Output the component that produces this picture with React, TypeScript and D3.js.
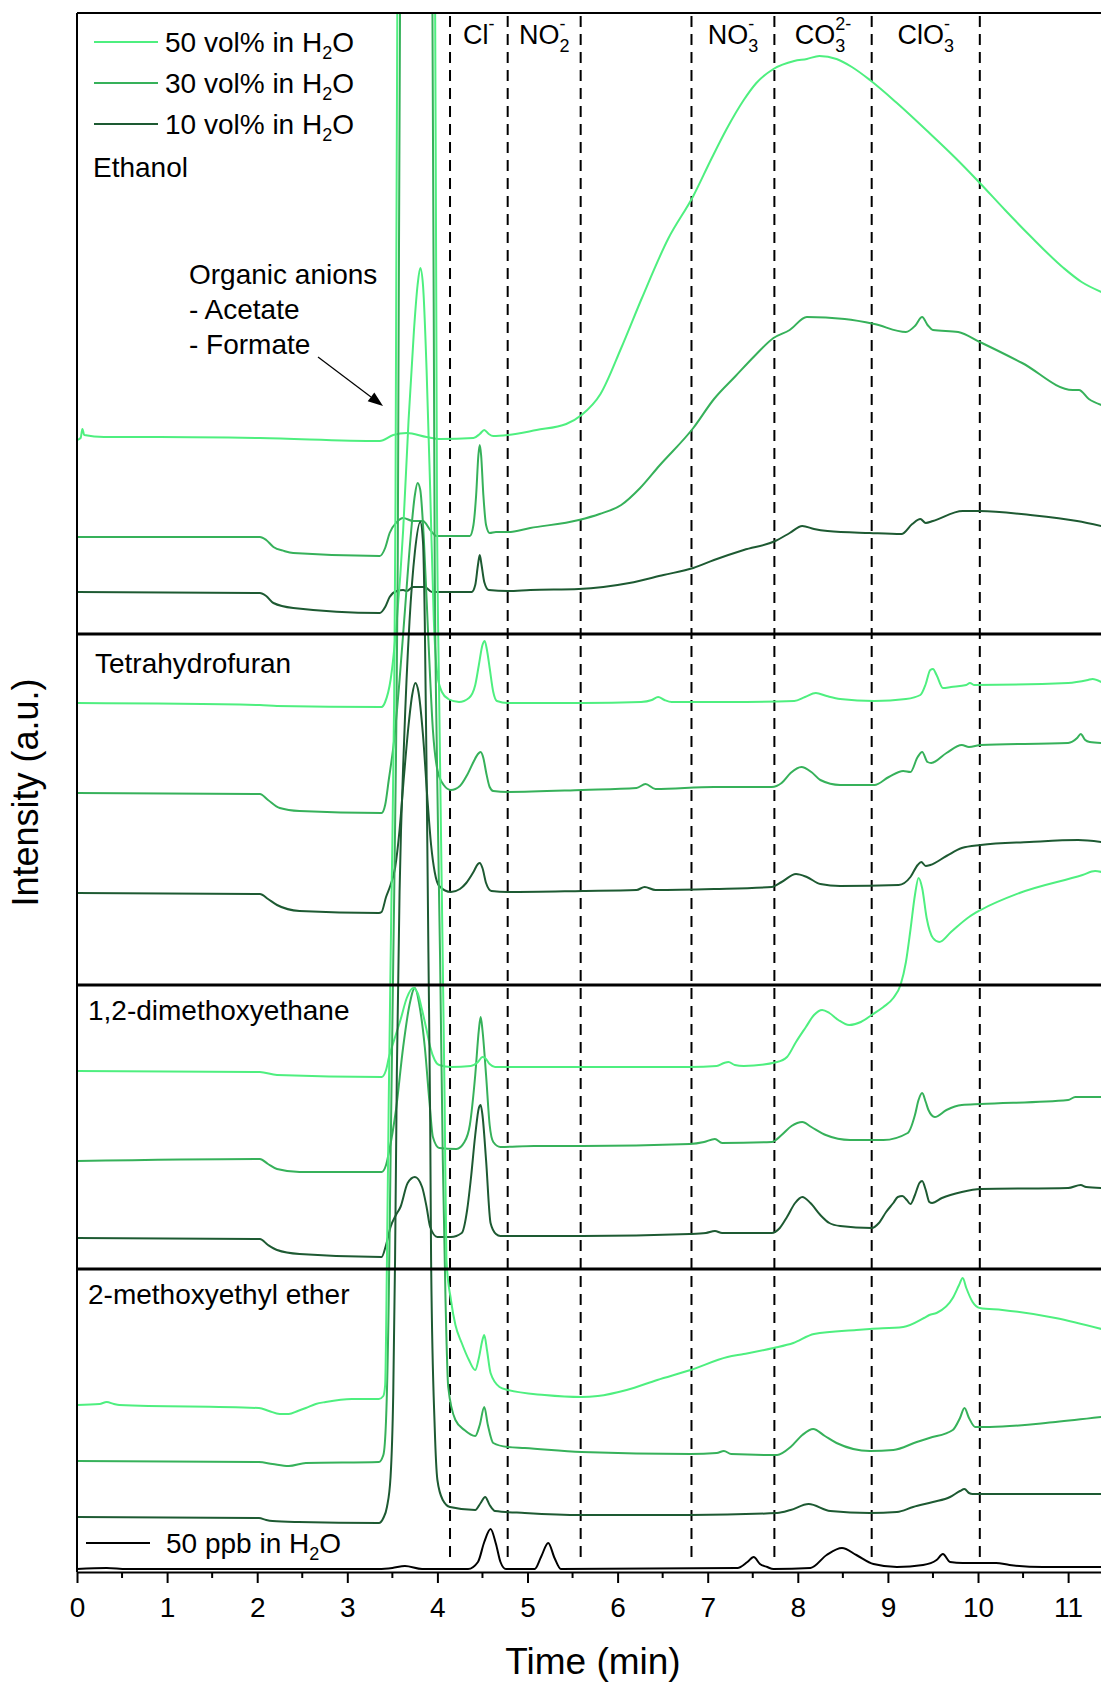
import React, { useEffect, useRef } from "react";
import * as d3 from "d3";

type Pt = [number, number];

const W = 1101;
const H = 1682;
const font = "'Liberation Sans', Arial, Helvetica, sans-serif";

// time axis (min)
const timeTicks = [0, 1, 2, 3, 4, 5, 6, 7, 8, 9, 10, 11];
const timeMinor = [0.5, 1.5, 2.5, 3.5, 4.5, 5.5, 6.5, 7.5, 8.5, 9.5, 10.5];
const timeMax = 11.365;
const intensityMax = 1559;

// dashed retention windows (min)
const windowEdges = [4.14, 4.78, 5.59, 6.82, 7.74, 8.82, 10.02];
const ionBase = ["Cl", "NO", "NO", "CO", "ClO"];
const ionSub = ["", "2", "3", "3", "3"];
const ionCharge = ["-", "-", "-", "2-", "-"];
const ionWindow = [0, 1, 3, 4, 5];

const solvents = ["Ethanol", "Tetrahydrofuran", "1,2-dimethoxyethane", "2-methoxyethyl ether"];
const concLabels = ["50 vol% in H", "30 vol% in H", "10 vol% in H"];
const concColors = ["#4EEF7F", "#36B15A", "#1D5A32"];

// panel separators (a.u.)
const panelBreaks = [938, 587, 303];

// chromatograms: [time (min), intensity (a.u., stacked offset included)]
const eth50: Pt[] = [[0,1132],[0.04,1134],[0.06,1143],[0.08,1137],[0.3,1135],[0.92,1135],[2.03,1134],[3.36,1131],[3.51,1137],[3.66,1139],[3.88,1135],[4.03,1133],[4.4,1134],[4.47,1138],[4.52,1142],[4.57,1138],[4.62,1136],[4.78,1137],[5.1,1142],[5.43,1148],[5.6,1157],[5.81,1178],[6.04,1224],[6.27,1274],[6.56,1333],[6.84,1376],[7.04,1413],[7.21,1443],[7.4,1472],[7.54,1489],[7.73,1503],[7.96,1511],[8.1,1513],[8.24,1516],[8.43,1513],[8.6,1505],[8.8,1492],[9.1,1469],[9.46,1439],[9.75,1414],[10.02,1389],[10.3,1362],[10.58,1336],[10.95,1304],[11.15,1290],[11.37,1280]];
const eth30: Pt[] = [[0,1035],[2.03,1035],[2.1,1032],[2.18,1025],[2.3,1021],[2.4,1019],[3.36,1016],[3.42,1024],[3.47,1039],[3.55,1050],[3.62,1054],[3.73,1051],[3.84,1051],[3.92,1042],[3.99,1036],[4.25,1036],[4.36,1036],[4.4,1047],[4.43,1077],[4.455,1117],[4.47,1127],[4.485,1117],[4.51,1077],[4.54,1047],[4.58,1039],[4.65,1040],[4.78,1040],[5.03,1044],[5.57,1052],[5.8,1058],[6.04,1067],[6.25,1084],[6.46,1106],[6.84,1144],[7.07,1173],[7.31,1196],[7.52,1216],[7.73,1234],[7.91,1242],[8.1,1255],[8.52,1253],[8.85,1248],[9.2,1240],[9.3,1246],[9.38,1255],[9.44,1247],[9.5,1242],[9.78,1240],[10.02,1230],[10.49,1209],[11.05,1182],[11.12,1182],[11.23,1173],[11.37,1167]];
const eth10: Pt[] = [[0,980],[2.03,979],[2.1,976],[2.18,969],[2.4,964],[3.36,959],[3.42,965],[3.47,975],[3.55,981],[3.62,982],[3.66,981],[3.73,985],[3.86,985],[3.94,980],[4.25,980],[4.38,980],[4.42,987],[4.45,1007],[4.47,1017],[4.49,1007],[4.52,990],[4.57,982],[4.78,981],[5.03,982],[5.57,983],[6.13,989],[6.51,997],[6.84,1004],[7.07,1012],[7.4,1022],[7.75,1031],[7.91,1039],[8.05,1046],[8.18,1043],[8.33,1041],[8.8,1039],[9.15,1038],[9.27,1048],[9.36,1053],[9.42,1049],[9.5,1051],[9.83,1061],[10.02,1061],[10.58,1057],[11.1,1051],[11.37,1046]];

const thf50: Pt[] = [[0,869],[2.03,867],[2.22,866],[3.38,865],[3.42,870],[3.48,892],[3.55,952],[3.62,1042],[3.68,1152],[3.74,1242],[3.78,1287],[3.81,1304],[3.84,1287],[3.88,1202],[3.92,1082],[3.96,952],[4.0,897],[4.05,880],[4.12,873],[4.24,870],[4.35,874],[4.42,887],[4.46,907],[4.5,927],[4.525,931],[4.55,922],[4.58,904],[4.62,880],[4.66,871],[4.78,869],[5.61,869],[6.26,870],[6.38,872],[6.45,875],[6.52,872],[6.6,870],[7.23,870],[7.96,871],[8.08,875],[8.2,879],[8.32,876],[8.47,873],[8.85,871],[9.2,873],[9.36,877],[9.42,888],[9.47,902],[9.5,903],[9.54,897],[9.61,884],[9.7,885],[9.87,887],[9.91,889],[9.96,887],[11.0,889],[11.22,892],[11.27,893],[11.37,890]];
const thf30: Pt[] = [[0,779],[2.03,778],[2.12,772],[2.25,764],[2.47,761],[3.38,759],[3.42,767],[3.46,792],[3.52,832],[3.58,892],[3.64,962],[3.7,1032],[3.75,1077],[3.78,1089],[3.81,1082],[3.85,1032],[3.9,932],[3.95,842],[4.0,802],[4.07,787],[4.15,782],[4.25,786],[4.33,797],[4.4,810],[4.45,818],[4.48,820],[4.51,814],[4.54,800],[4.58,785],[4.62,781],[4.78,780],[5.61,782],[6.21,784],[6.31,788],[6.42,783],[7.07,785],[7.71,785],[7.82,789],[7.92,799],[8.04,805],[8.15,800],[8.25,792],[8.47,787],[8.85,787],[9.01,795],[9.17,801],[9.25,800],[9.33,815],[9.38,820],[9.44,810],[9.48,809],[9.65,819],[9.82,827],[9.9,825],[10.03,827],[11.0,829],[11.1,834],[11.14,838],[11.19,832],[11.24,830],[11.37,829]];
const thf10: Pt[] = [[0,679],[2.03,678],[2.12,673],[2.22,667],[2.47,661],[3.35,659],[3.38,660],[3.43,675],[3.48,687],[3.53,704],[3.58,742],[3.63,797],[3.68,847],[3.72,877],[3.755,889],[3.79,880],[3.84,837],[3.89,772],[3.93,727],[3.97,700],[4.02,686],[4.15,680],[4.25,683],[4.32,689],[4.4,700],[4.45,708],[4.47,709],[4.5,704],[4.54,689],[4.6,681],[4.78,680],[5.61,681],[6.21,682],[6.3,685],[6.42,682],[7.07,683],[7.71,685],[7.82,690],[7.98,698],[8.1,695],[8.25,688],[8.47,686],[9.12,687],[9.25,695],[9.33,707],[9.37,710],[9.42,706],[9.47,707],[9.65,716],[9.82,724],[10.03,727],[10.57,730],[11.11,732],[11.37,730]];

const dme50: Pt[] = [[0,501],[2.03,500],[2.22,497],[3.38,495],[3.43,502],[3.46,514],[3.52,532],[3.59,552],[3.66,574],[3.73,584],[3.78,579],[3.83,562],[3.88,542],[3.92,525],[3.97,512],[4.02,507],[4.15,505],[4.37,506],[4.45,510],[4.5,515],[4.53,514],[4.58,508],[4.64,505],[5.61,505],[6.8,505],[7.1,506],[7.18,509],[7.23,510],[7.3,507],[7.4,506],[7.77,510],[7.88,515],[7.98,530],[8.09,545],[8.18,557],[8.27,562],[8.35,559],[8.45,552],[8.57,547],[8.7,550],[8.82,557],[8.95,565],[9.06,574],[9.14,587],[9.2,610],[9.25,642],[9.3,677],[9.34,694],[9.38,684],[9.43,654],[9.5,634],[9.57,630],[9.7,640],[9.9,655],[10.03,662],[10.46,679],[11.16,697],[11.3,701],[11.37,700]];
const dme30: Pt[] = [[0,411],[2.03,413],[2.12,408],[2.22,403],[2.47,400],[3.38,400],[3.43,407],[3.46,419],[3.54,462],[3.62,525],[3.69,567],[3.75,584],[3.8,567],[3.86,525],[3.91,472],[3.95,435],[4.02,424],[4.21,423],[4.3,430],[4.36,447],[4.42,497],[4.46,542],[4.48,555],[4.5,542],[4.54,497],[4.58,447],[4.62,430],[4.7,425],[5.07,426],[5.61,426],[6.8,428],[6.96,430],[7.08,433],[7.16,429],[7.71,430],[7.82,437],[7.93,446],[8.05,450],[8.15,445],[8.31,437],[8.58,432],[8.95,432],[9.22,439],[9.3,457],[9.34,472],[9.38,479],[9.42,470],[9.45,462],[9.52,455],[9.65,462],[9.82,467],[10.03,468],[11.0,472],[11.08,475],[11.14,475],[11.37,475]];
const dme10: Pt[] = [[0,334],[2.03,333],[2.12,327],[2.22,322],[2.47,318],[3.38,315],[3.43,327],[3.48,345],[3.54,357],[3.59,365],[3.67,389],[3.75,395],[3.83,385],[3.88,365],[3.92,345],[4.0,335],[4.15,335],[4.27,339],[4.33,362],[4.37,392],[4.42,437],[4.46,464],[4.48,467],[4.5,457],[4.54,412],[4.59,349],[4.65,338],[4.7,336],[5.61,336],[6.8,338],[6.98,339],[7.08,341],[7.16,339],[7.71,339],[7.8,344],[7.88,355],[7.97,369],[8.05,375],[8.14,369],[8.25,357],[8.35,349],[8.47,346],[8.82,344],[8.9,349],[8.98,360],[9.06,369],[9.11,375],[9.16,376],[9.21,372],[9.25,368],[9.3,377],[9.35,389],[9.38,391],[9.42,382],[9.46,370],[9.49,369],[9.6,374],[9.82,380],[10.03,383],[11.0,384],[11.14,387],[11.2,385],[11.37,384]];

const ether50: Pt[] = [[0,167],[0.25,168],[0.33,170],[0.41,168],[0.47,167],[2.02,164],[2.13,161],[2.25,158],[2.35,158],[2.45,161],[2.54,164],[2.65,168],[2.76,170],[3.05,173],[3.35,173],[3.4,176],[3.42,187],[3.44,312],[3.46,472],[3.49,672],[3.52,872],[3.535,1072],[3.555,1559],[3.76,2300],[3.975,1559],[3.995,1072],[4.02,872],[4.05,672],[4.08,472],[4.1,312],[4.15,272],[4.2,247],[4.27,229],[4.35,212],[4.42,202],[4.46,214],[4.5,232],[4.52,237],[4.55,222],[4.59,199],[4.69,185],[4.78,182],[5.19,177],[5.6,175],[5.78,176],[6.1,182],[6.44,192],[6.81,202],[7.22,215],[7.4,218],[7.73,224],[7.95,229],[8.18,238],[8.65,242],[8.8,243],[9.17,245],[9.4,254],[9.46,257],[9.54,259],[9.72,274],[9.79,287],[9.83,294],[9.87,284],[9.94,270],[10.02,264],[10.27,262],[10.86,254],[11.37,243]];
const ether30: Pt[] = [[0,111],[2.02,110],[2.17,108],[2.35,106],[2.54,109],[3.35,110],[3.4,117],[3.43,152],[3.46,272],[3.48,412],[3.51,612],[3.54,812],[3.56,1012],[3.585,1559],[3.76,2300],[3.945,1559],[3.97,1012],[3.995,812],[4.03,612],[4.06,412],[4.09,272],[4.12,185],[4.2,152],[4.3,142],[4.42,136],[4.47,147],[4.52,165],[4.56,147],[4.62,129],[4.78,125],[4.97,124],[5.6,120],[6.81,118],[7.1,119],[7.18,121],[7.26,118],[7.77,117],[7.92,125],[8.05,137],[8.17,143],[8.3,136],[8.43,129],[8.8,121],[9.06,122],[9.32,130],[9.46,134],[9.72,142],[9.8,154],[9.85,164],[9.9,154],[9.97,145],[10.13,145],[10.86,150],[11.37,155]];
const ether10: Pt[] = [[0,55],[2.02,54],[2.1,52],[2.17,51],[2.46,50],[3.35,49],[3.4,54],[3.44,65],[3.48,95],[3.51,179],[3.53,312],[3.55,500],[3.58,680],[3.63,830],[3.69,950],[3.75,1020],[3.81,1050],[3.84,1030],[3.86,950],[3.88,800],[3.9,620],[3.92,450],[3.93,312],[3.97,145],[4.0,92],[4.06,72],[4.14,65],[4.42,62],[4.48,69],[4.53,75],[4.58,67],[4.64,61],[4.97,59],[5.6,57],[6.81,57],[7.77,59],[7.92,62],[8.12,68],[8.36,61],[8.8,59],[9.1,60],[9.28,65],[9.5,70],[9.69,75],[9.8,81],[9.85,83],[9.9,79],[9.94,78],[10.05,78],[11.37,78]];

const ref50ppb: Pt[] = [[0,3],[0.33,4],[0.55,3],[3.35,3],[3.5,4],[3.64,6],[3.83,3],[4.34,3],[4.45,10],[4.52,30],[4.59,43],[4.65,28],[4.7,10],[4.76,3],[5.08,3],[5.15,15],[5.23,29],[5.3,14],[5.37,3],[7.33,4],[7.44,10],[7.51,15],[7.58,8],[7.66,5],[7.73,3],[8.14,4],[8.32,17],[8.49,24],[8.65,17],[8.84,8],[9.1,5],[9.39,7],[9.54,12],[9.61,18],[9.69,10],[9.83,9],[10.2,9],[10.35,7],[10.72,5],[11.37,5]];

const solventTraces: Pt[][][] = [
  [eth50, eth30, eth10],
  [thf50, thf30, thf10],
  [dme50, dme30, dme10],
  [ether50, ether30, ether10],
];

export default function App() {
  const svgRef = useRef<SVGSVGElement | null>(null);

  useEffect(() => {
    const svg = d3.select(svgRef.current);
    svg.selectAll("*").remove();

    const x = d3.scaleLinear().domain([0, timeMax]).range([77, W]);
    const y = d3.scaleLinear().domain([0, intensityMax]).range([1572, 13]);
    const [x0, x1] = x.range();
    const yTop = y(intensityMax);
    const yBot = y(0);

    svg.append("defs").append("clipPath").attr("id", "plot")
      .append("rect").attr("x", x0).attr("y", yTop).attr("width", x1 - x0).attr("height", yBot - yTop);

    // dashed retention windows
    svg.append("g").selectAll("line").data(windowEdges).join("line")
      .attr("x1", (d) => x(d)).attr("x2", (d) => x(d))
      .attr("y1", yTop + 3).attr("y2", yBot - 9)
      .attr("stroke", "#000").attr("stroke-width", 2).attr("stroke-dasharray", "11 7");

    // traces
    const line = d3.line<Pt>().x((d) => x(d[0])).y((d) => y(d[1])).curve(d3.curveMonotoneX);
    const tg = svg.append("g").attr("clip-path", "url(#plot)").attr("fill", "none");
    solventTraces.forEach((set) => {
      [2, 1, 0].forEach((i) => {
        tg.append("path").attr("d", line(set[i])).attr("stroke", concColors[i]).attr("stroke-width", 2);
      });
    });
    tg.append("path").attr("d", line(ref50ppb)).attr("stroke", "#000").attr("stroke-width", 2);

    // panel separators
    svg.append("g").selectAll("line").data(panelBreaks).join("line")
      .attr("x1", x0).attr("x2", x1).attr("y1", (d) => y(d)).attr("y2", (d) => y(d))
      .attr("stroke", "#000").attr("stroke-width", 3);

    // frame
    svg.append("line").attr("x1", x0).attr("x2", x1).attr("y1", yTop).attr("y2", yTop)
      .attr("stroke", "#000").attr("stroke-width", 2);
    svg.append("line").attr("x1", x0).attr("x2", x0).attr("y1", yTop).attr("y2", yBot)
      .attr("stroke", "#000").attr("stroke-width", 2);

    // x axis
    const ax = svg.append("g").attr("transform", `translate(0,${yBot})`)
      .call(d3.axisBottom(x).tickValues(timeTicks).tickFormat(d3.format("d")).tickSize(11).tickSizeOuter(0).tickPadding(14));
    ax.select(".domain").attr("stroke-width", 2);
    ax.selectAll(".tick line").attr("stroke-width", 2);
    ax.selectAll(".tick text").attr("font-size", 28).attr("font-family", font).attr("fill", "#000");
    svg.append("g").attr("transform", `translate(0,${yBot})`).selectAll("line").data(timeMinor).join("line")
      .attr("x1", (d) => x(d)).attr("x2", (d) => x(d)).attr("y1", 0).attr("y2", 6)
      .attr("stroke", "#000").attr("stroke-width", 2);

    const tx = svg.append("g").attr("font-family", font).attr("fill", "#000");

    tx.append("text").attr("x", (x0 + x1) / 2 + 4).attr("y", 1674).attr("text-anchor", "middle")
      .attr("font-size", 37).text("Time (min)");
    tx.append("text").attr("transform", `translate(38,${(yTop + yBot) / 2}) rotate(-90)`)
      .attr("text-anchor", "middle").attr("font-size", 36).text("Intensity (a.u.)");

    // ion labels
    ionBase.forEach((b, i) => {
      const w = ionWindow[i];
      const t = tx.append("text").attr("x", x((windowEdges[w] + windowEdges[w + 1]) / 2))
        .attr("y", 44).attr("text-anchor", "middle").attr("font-size", 27);
      t.append("tspan").text(b);
      if (ionSub[i]) {
        t.append("tspan").attr("font-size", 18).attr("dy", 8).text(ionSub[i]);
        t.append("tspan").attr("font-size", 18).attr("dx", -10).attr("dy", -22).text(ionCharge[i]);
      } else {
        t.append("tspan").attr("font-size", 18).attr("dy", -14).text(ionCharge[i]);
      }
    });

    // legend
    concLabels.forEach((lab, i) => {
      const cy = 42 + i * 41;
      tx.append("line").attr("x1", 94).attr("x2", 158).attr("y1", cy).attr("y2", cy)
        .attr("stroke", concColors[i]).attr("stroke-width", 2);
      const t = tx.append("text").attr("x", 165).attr("y", cy + 10).attr("font-size", 28);
      t.append("tspan").text(lab);
      t.append("tspan").attr("font-size", 18).attr("dy", 7).text("2");
      t.append("tspan").attr("dy", -7).text("O");
    });
    tx.append("line").attr("x1", 86).attr("x2", 150).attr("y1", 1543).attr("y2", 1543)
      .attr("stroke", "#000").attr("stroke-width", 2);
    const rt = tx.append("text").attr("x", 166).attr("y", 1553).attr("font-size", 28);
    rt.append("tspan").text("50 ppb in H");
    rt.append("tspan").attr("font-size", 18).attr("dy", 7).text("2");
    rt.append("tspan").attr("dy", -7).text("O");

    // solvent labels
    const labelPos = [[93, 177], [95, y(panelBreaks[0]) + 39], [88, y(panelBreaks[1]) + 35], [88, y(panelBreaks[2]) + 35]];
    solvents.forEach((s, i) => {
      tx.append("text").attr("x", labelPos[i][0]).attr("y", labelPos[i][1]).attr("font-size", 28).text(s);
    });

    // organic anion annotation
    ["Organic anions", "- Acetate", "- Formate"].forEach((s, i) => {
      tx.append("text").attr("x", 189).attr("y", 284 + i * 35).attr("font-size", 28).text(s);
    });
    const a0 = [318, 357], a1 = [383, 406];
    const ang = Math.atan2(a1[1] - a0[1], a1[0] - a0[0]);
    const hl = 15, hw = 5.5;
    tx.append("line").attr("x1", a0[0]).attr("y1", a0[1])
      .attr("x2", a1[0] - hl * Math.cos(ang)).attr("y2", a1[1] - hl * Math.sin(ang))
      .attr("stroke", "#000").attr("stroke-width", 1.2);
    const bx = a1[0] - hl * Math.cos(ang), by = a1[1] - hl * Math.sin(ang);
    tx.append("polygon").attr("points", [
      [a1[0], a1[1]],
      [bx + hw * Math.sin(ang), by - hw * Math.cos(ang)],
      [bx - hw * Math.sin(ang), by + hw * Math.cos(ang)],
    ].map((p) => p.join(",")).join(" ")).attr("fill", "#000");
  }, []);

  return (
    <svg ref={svgRef} width={W} height={H}
      style={{ position: "absolute", left: 0, top: 0, background: "#fff" }} />
  );
}
